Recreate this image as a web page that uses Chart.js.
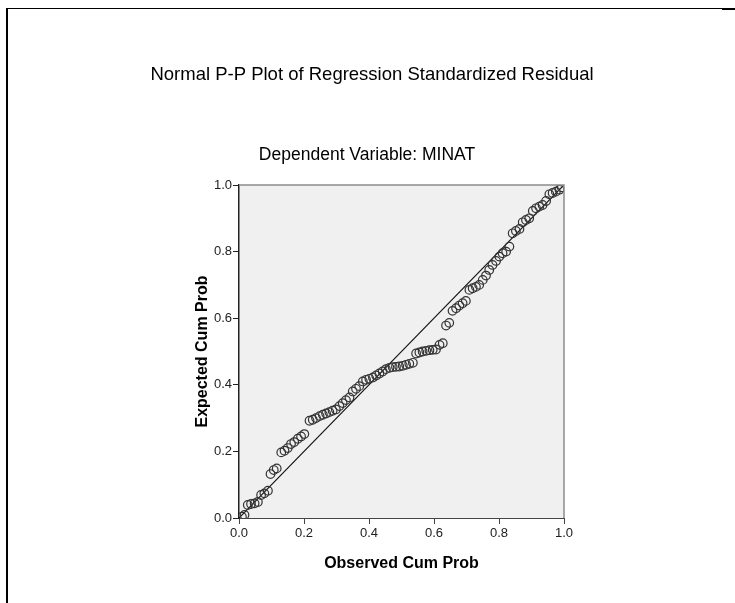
<!DOCTYPE html>
<html>
<head>
<meta charset="utf-8">
<script src="https://cdn.jsdelivr.net/npm/chart.js@4.4.0/dist/chart.umd.min.js"></script>
<style>
  body { margin: 0; background: #fff; }
  #wrap { position: relative; width: 735px; height: 603px; }
  .frame { position: absolute; background: #000; }
</style>
</head>
<body>
<div id="wrap">
  <canvas id="ppChart" width="735" height="603"></canvas>
  <div class="frame" style="left:6px; top:8px; width:716px; height:1px;"></div>
  <div class="frame" style="left:722px; top:8px; width:13px; height:2px;"></div>
  <div class="frame" style="left:6px; top:8px; width:2px; height:595px;"></div>
</div>
<script>
var chartTitle = 'Normal P-P Plot of Regression Standardized Residual';
var chartSubtitle = 'Dependent Variable: MINAT';
var xTitle = 'Observed Cum Prob';
var yTitle = 'Expected Cum Prob';
var tickValues = [0, 0.2, 0.4, 0.6, 0.8, 1.0];

// observed cum prob / expected cum prob
var observed = [
  0.009, 0.017, 0.027, 0.037, 0.048, 0.058, 0.068, 0.078, 0.089, 0.097,
  0.107, 0.116, 0.130, 0.140, 0.150, 0.160, 0.170, 0.181, 0.191, 0.201,
  0.217, 0.227, 0.237, 0.248, 0.258, 0.268, 0.278, 0.288, 0.298, 0.309,
  0.319, 0.329, 0.340, 0.350, 0.360, 0.370, 0.381, 0.391, 0.401, 0.412,
  0.422, 0.432, 0.442, 0.452, 0.463, 0.473, 0.483, 0.493, 0.504, 0.514,
  0.524, 0.535, 0.545, 0.555, 0.565, 0.576, 0.586, 0.596, 0.606, 0.617,
  0.627, 0.637, 0.647, 0.657, 0.668, 0.678, 0.688, 0.698, 0.709, 0.719,
  0.729, 0.739, 0.750, 0.760, 0.770, 0.780, 0.791, 0.801, 0.811, 0.822,
  0.832, 0.842, 0.852, 0.863, 0.873, 0.883, 0.893, 0.904, 0.914, 0.924,
  0.934, 0.945, 0.955, 0.965, 0.975, 0.986, 0.993
];
var expected = [
  0.004, 0.009, 0.039, 0.042, 0.044, 0.048, 0.069, 0.074, 0.082, 0.132,
  0.144, 0.149, 0.197, 0.202, 0.210, 0.222, 0.228, 0.238, 0.245, 0.252,
  0.292, 0.295, 0.300, 0.306, 0.310, 0.314, 0.318, 0.322, 0.326, 0.336,
  0.345, 0.354, 0.362, 0.380, 0.388, 0.396, 0.410, 0.415, 0.418, 0.422,
  0.428, 0.434, 0.440, 0.447, 0.451, 0.453, 0.454, 0.455, 0.457, 0.460,
  0.463, 0.466, 0.494, 0.497, 0.500, 0.502, 0.504, 0.505, 0.506, 0.520,
  0.525, 0.578, 0.586, 0.622, 0.630, 0.638, 0.645, 0.652, 0.685, 0.690,
  0.694, 0.700, 0.715, 0.728, 0.745, 0.760, 0.772, 0.785, 0.795, 0.800,
  0.815, 0.855, 0.862, 0.868, 0.888, 0.895, 0.900, 0.922, 0.930, 0.935,
  0.940, 0.952, 0.972, 0.976, 0.980, 0.986, 0.993
];
var refLine = [0, 1];

var points = observed.map(function (v, i) {
  return { x: v, y: expected[i] };
});

// plot background, top/right border and the two titles
var plotDecor = {
  id: 'plotDecor',
  beforeDraw: function (chart) {
    var a = chart.chartArea, ctx = chart.ctx;
    ctx.save();
    ctx.fillStyle = '#f0f0f0';
    ctx.fillRect(a.left, a.top, a.right - a.left, a.bottom - a.top);
    ctx.restore();
  },
  afterDraw: function (chart) {
    var a = chart.chartArea, ctx = chart.ctx;
    ctx.save();
    ctx.strokeStyle = '#8c8c8c';
    ctx.lineWidth = 1.5;
    ctx.beginPath();
    ctx.moveTo(a.left, a.top);
    ctx.lineTo(a.right, a.top);
    ctx.lineTo(a.right, a.bottom);
    ctx.stroke();
    ctx.fillStyle = '#000';
    ctx.textAlign = 'center';
    ctx.textBaseline = 'middle';
    ctx.font = '18.5px Arial, "Liberation Sans", sans-serif';
    ctx.fillText(chartTitle, 372, 75);
    ctx.font = '17.5px Arial, "Liberation Sans", sans-serif';
    ctx.fillText(chartSubtitle, 367, 155);
    ctx.restore();
  }
};

var ppConfig = {
  type: 'scatter',
  data: {
    datasets: [{
      label: 'Observed',
      data: points,
      pointStyle: 'circle',
      pointRadius: 4.3,
      pointBorderWidth: 1.2,
      borderColor: '#333',
      backgroundColor: 'rgba(0,0,0,0)'
    }, {
      label: 'Reference',
      data: refLine.map(function (v) { return { x: v, y: v }; }),
      showLine: true,
      pointRadius: 0,
      borderColor: '#111',
      borderWidth: 1.2
    }]
  },
  options: {
    responsive: false,
    animation: false,
    devicePixelRatio: 1,
    layout: { padding: { top: 185, left: 189, right: 171, bottom: 30 } },
    plugins: {
      legend: { display: false },
      tooltip: { enabled: false }
    },
    scales: {
      x: {
        type: 'linear',
        min: 0,
        max: 1,
        afterFit: function (s) { s.height = 55; },
        afterBuildTicks: function (s) {
          s.ticks = tickValues.map(function (v) { return { value: v }; });
        },
        ticks: {
          padding: 2,
          color: '#222',
          font: { family: 'Arial, "Liberation Sans", sans-serif', size: 13 },
          callback: function (v) { return Number(v).toFixed(1); }
        },
        grid: { drawOnChartArea: false, tickLength: 6, color: '#444' },
        border: { color: '#444', width: 1 },
        title: {
          display: true,
          text: xTitle,
          color: '#000',
          padding: { top: 0, bottom: 0 },
          font: { family: 'Arial, "Liberation Sans", sans-serif', size: 16, weight: 'bold' }
        }
      },
      y: {
        type: 'linear',
        min: 0,
        max: 1,
        afterFit: function (s) { s.width = 50; },
        afterBuildTicks: function (s) {
          s.ticks = tickValues.map(function (v) { return { value: v }; });
        },
        ticks: {
          padding: 1,
          color: '#222',
          font: { family: 'Arial, "Liberation Sans", sans-serif', size: 13 },
          callback: function (v) { return Number(v).toFixed(1); }
        },
        grid: { drawOnChartArea: false, tickLength: 6, color: '#222' },
        border: { color: '#222', width: 1.5 },
        title: {
          display: true,
          text: yTitle,
          color: '#000',
          padding: { top: 4, bottom: 0 },
          font: { family: 'Arial, "Liberation Sans", sans-serif', size: 16, weight: 'bold' }
        }
      }
    }
  },
  plugins: [plotDecor]
};

var ppChart = new Chart(document.getElementById('ppChart'), ppConfig);
</script>
</body>
</html>
